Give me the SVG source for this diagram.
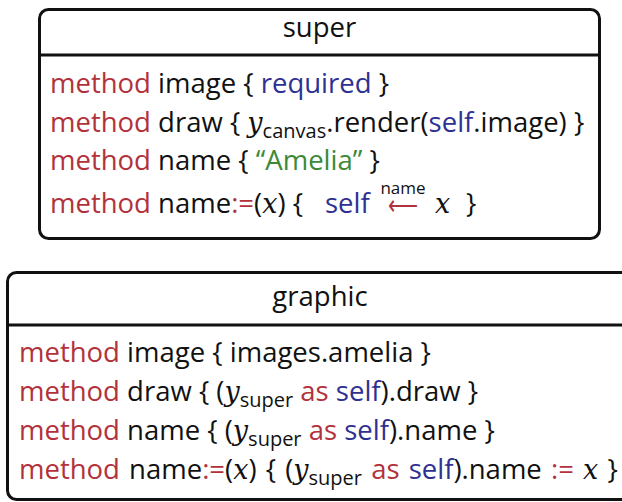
<svg xmlns="http://www.w3.org/2000/svg" width="622" height="502" viewBox="0 0 622 502">
<style>
text{font-family:"Open Sans","Noto Sans",sans-serif;font-size:27.5px;fill:#111}
.r{fill:#b2323c}
.b{fill:#2e3192}
.g{fill:#3b8a3a}
.m{font-family:"DejaVu Serif","Liberation Serif",serif;font-style:italic;font-size:27px}
.s{font-size:20px}
.n{font-size:17px}
.box{fill:#fff;stroke:#111;stroke-width:3}
.div{stroke:#111;stroke-width:3}
</style>
<g id="super">
<rect class="box" x="39.5" y="9.5" width="560" height="229" rx="9"/>
<line class="div" x1="39.5" y1="55" x2="599.5" y2="55"/>
<text x="319.5" y="37" text-anchor="middle">super</text>
<text x="50" y="93"><tspan class="r">method</tspan> image { <tspan class="b">required</tspan> }</text>
<text x="50" y="132"><tspan class="r">method</tspan> draw { <tspan class="m">y</tspan><tspan class="s" dy="6">canvas</tspan><tspan dy="-6">.render(</tspan><tspan class="b">self</tspan>.image) }</text>
<text x="50" y="170"><tspan class="r">method</tspan> name { <tspan class="g">“Amelia”</tspan> }</text>
<text x="50" y="213"><tspan class="r">method</tspan> name<tspan class="r">:=</tspan>(<tspan class="m">x</tspan>) {</text>
<text class="b" x="325" y="213">self</text>
<text class="n" x="403" y="194" text-anchor="middle">name</text>
<text class="r" x="388" y="215" font-family="DejaVu Sans" font-size="22" textLength="30" lengthAdjust="spacingAndGlyphs">⟵</text>
<text class="m" x="435" y="213">x</text>
<text x="466" y="213">}</text>
</g>
<g id="graphic">
<rect class="box" x="7.5" y="272.5" width="630" height="227" rx="9"/>
<line class="div" x1="7.5" y1="325" x2="637.5" y2="325"/>
<text x="320" y="306" text-anchor="middle">graphic</text>
<text x="19" y="362"><tspan class="r">method</tspan> image { images.amelia }</text>
<text x="19" y="401"><tspan class="r">method</tspan> draw { (<tspan class="m">y</tspan><tspan class="s" dy="6">super</tspan><tspan class="r" dy="-6"> as</tspan> <tspan class="b">self</tspan>).draw }</text>
<text x="19" y="440"><tspan class="r">method</tspan> name { (<tspan class="m">y</tspan><tspan class="s" dy="6">super</tspan><tspan class="r" dy="-6"> as</tspan> <tspan class="b">self</tspan>).name }</text>
<text x="19" y="479" word-spacing="2"><tspan class="r">method</tspan> name<tspan class="r">:=</tspan>(<tspan class="m">x</tspan>) { (<tspan class="m">y</tspan><tspan class="s" dy="6">super</tspan><tspan class="r" dy="-6"> as</tspan> <tspan class="b">self</tspan>).name <tspan class="r">:=</tspan> <tspan class="m">x</tspan> }</text>
</g>
</svg>
